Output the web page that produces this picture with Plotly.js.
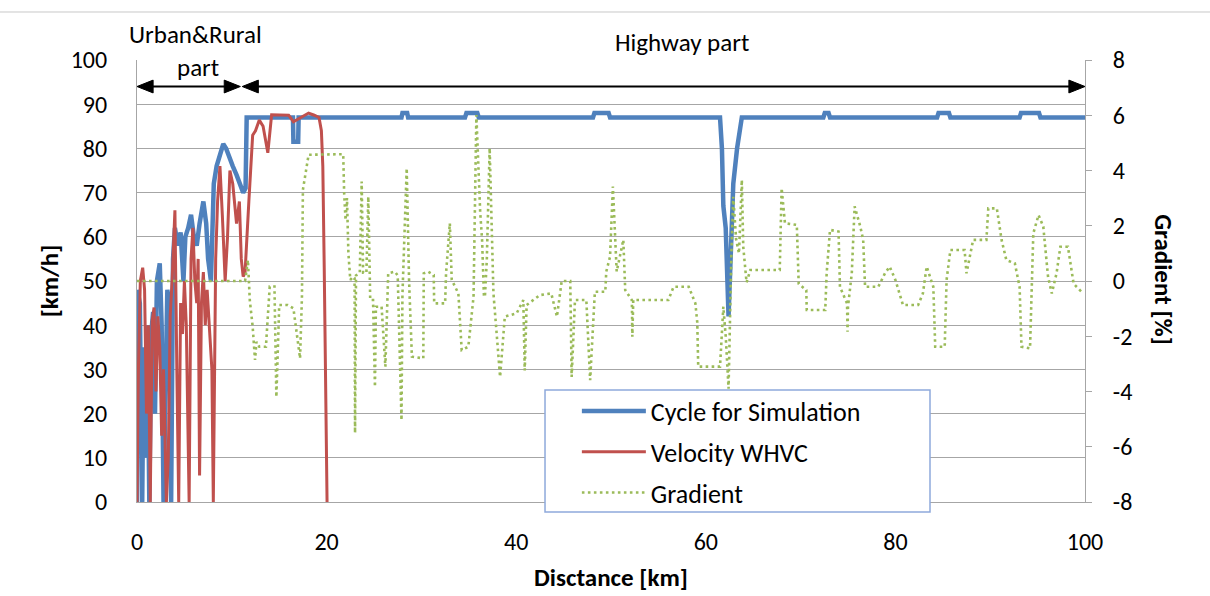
<!DOCTYPE html>
<html>
<head>
<meta charset="utf-8">
<script src="https://cdn.plot.ly/plotly-3.0.1.min.js"></script>
<style>html,body{margin:0;padding:0;background:#fff;}#chart{width:1210px;height:596px;}</style>
</head>
<body>
<div id="chart"></div>
<script>
// ---- Data (distance in km) ----
const cycleX = [0, 0.05, 0.3, 0.55, 0.7, 0.9, 1.1, 1.3, 1.5, 1.7, 1.9, 2.1, 2.4, 2.6, 2.8, 3.0, 3.2, 3.4, 3.6, 3.8, 4.0, 4.3, 4.6, 4.9, 5.1, 5.4, 5.7, 6.0, 6.3, 6.6, 7.0, 7.3, 7.5, 7.8, 8.1, 8.4, 8.7, 9.1, 9.4, 9.7, 10.1, 10.5, 10.9, 11.2, 11.45, 11.57,
  16.45, 16.5, 17.0, 17.05, 27.9, 28.0, 28.5, 28.6, 34.6, 34.75, 35.9, 36.05, 48.1, 48.25, 49.75, 49.9,
  61.5, 61.7, 61.85, 62.1, 62.4, 62.6, 62.9, 63.3, 63.8, 72.4, 72.55, 72.95, 73.1, 84.4, 84.55, 85.65, 85.8, 93.1, 93.25, 95.15, 95.3, 100];
const cycleV = [0, 48, 45, 0, 35, 10, 40, 0, 38, 43, 20, 50, 54, 40, 0, 25, 48, 45, 0, 55, 62, 58, 61, 50, 60, 62, 65, 60, 58, 63, 68, 63, 55, 50, 72, 76, 78, 81, 80, 78, 76, 74, 72, 70, 71, 87,
  87, 81.5, 81.5, 87, 87, 88, 88, 87, 87, 88, 88, 87, 87, 88, 88, 87,
  87, 80, 67, 62, 42, 55, 72, 80, 87, 87, 88, 88, 87, 87, 88, 88, 87, 87, 88, 88, 87, 87];

const whvcX = [0, 0.15, 0.35, 0.6, 0.8, 1.0, 1.2, 1.4, 1.6, 1.8, 2.0, 2.2, 2.4, 2.6, 2.8, 3.1, 3.3, 3.5, 3.7, 4.0,
  4.2, 4.4, 4.6, 4.8, 5.0, 5.2, 5.5, 5.7, 5.9, 6.1, 6.3, 6.45, 6.6, 6.8, 7.0, 7.2, 7.4, 7.7, 7.9, 8.05,
  8.3, 8.5, 8.75, 9.0, 9.3, 9.55, 9.8, 10.1, 10.5, 10.8, 11.0, 11.2, 11.4, 11.8, 12.2, 12.5, 12.9, 13.3, 13.8, 14.2,
  15.0, 16.0, 16.5, 17.3, 18.1, 18.7, 19.2, 19.45, 19.6, 19.75, 19.9, 20.05];
const whvcV = [0, 30, 50, 53, 48, 20, 40, 0, 41, 44, 25, 42, 35, 15, 30, 0, 10, 42, 50, 66,
  30, 0, 45, 38, 50, 40, 0, 55, 62, 50, 45, 55, 6, 45, 52, 40, 48, 37, 30, 0,
  55, 68, 76, 65, 50, 60, 75, 72, 63, 68, 55, 51, 52, 68, 83, 84, 86.4, 85, 79, 87.6,
  87.5, 87.5, 86, 87, 88, 87.5, 87, 84, 76, 53, 27, 0];

const gradX = [0, 11.4, 11.7, 11.9, 12.2, 12.45, 12.6, 12.9, 13.6, 14.0, 14.5, 14.7, 15.0, 15.9, 16.5, 17.2, 17.4, 17.5, 18.1,
  21.75, 21.85, 22.0, 22.15, 22.3, 22.5, 22.8, 22.95, 23.0, 23.1, 23.5, 23.7, 23.85, 24.2, 24.4, 24.6, 24.9, 25.1, 25.2, 25.8, 26.2, 26.5, 27.2, 27.5, 27.9, 28.0, 28.45, 28.7, 29.0,
  30.2, 30.25, 30.7, 31.3, 31.35, 32.5, 32.6, 33.0, 33.2, 33.9, 34.25, 34.95, 35.5, 35.8, 36.2, 36.4, 36.6, 36.7, 36.9, 37.2, 37.6, 38.3, 38.8,
  40.05, 40.75, 40.9, 41.1, 42.5, 43.7, 44.3, 44.8, 45.7, 45.85, 46.2, 47.4, 47.8, 48.3, 49.4, 49.5, 49.9, 50.2, 50.6, 51.3, 51.5, 52.2, 52.25, 52.35,
  56.05, 56.6, 58.2, 58.9, 59.1, 59.2, 61.5, 61.85, 62.1, 62.4, 62.55, 62.7, 62.9, 63.2, 63.5, 63.8, 63.95, 64.3, 64.7, 67.8, 68.0, 68.35, 69.6, 69.75, 69.8, 70.6, 70.65,
  72.6, 72.75, 73.1, 74.0, 74.15, 74.9, 74.95, 75.0, 75.4, 75.7, 76.3, 76.6, 76.8, 78.2, 78.9, 79.4, 80.0, 80.5, 80.8, 82.4, 82.9, 83.3, 84.0, 84.2,
  85.2, 85.4, 85.8, 87.3, 87.5, 88.2, 89.6, 89.8, 90.7, 91.2, 91.7, 92.6, 93.1, 93.3, 94.2, 94.55, 95.1, 95.6, 96.1, 96.5, 97.0, 97.4, 98.2, 98.8, 99.8];
const gradV = [0, 0, 0.76, -0.7, -1.65, -2.86, -2.2, -2.38, -2.38, -0.2, -0.2, -4.2, -0.87, -0.87, -0.99, -2.8, -0.57, 3.3, 4.57,
  4.59, 3.2, 2.2, 3.0, 1.0, 0.04, 0.16, 0.1, -5.5, 0.2, 0.3, 3.6, 0.3, 0.3, 3.05, -0.69, -0.69, -3.83, -0.93, -0.93, -3.1, 0.28, 0.34, 0.2, -5.04, -0.5, 4.08, 0, -2.74,
  -2.8, 0.28, 0.34, 0.22, -0.81, -0.81, 0.28, 2.09, 0.04, -0.45, -2.5, -2.38, -0.57, 6.01, 2.5, 1.49, -0.57, -0.57, 0.76, 4.81, -0.45, -3.47, -1.29,
  -1.17, -0.69, -3.24, -0.87, -0.51, -0.45, -1.29, 0.0, 0.0, -3.47, -0.69, -0.69, -3.59, -0.39, -0.39, 0.34, 0.88, 3.42, 0.34, 1.49, -0.33, -0.69, -2.02, -0.69,
  -0.69, -0.21, -0.21, -0.81, -1.5, -3.1, -3.1, -0.93, -2.0, -3.9, -1.0, 1.0, 3.05, 1.5, 1.0, 3.66, 1.24, -0.05, 0.4, 0.4, 3.36, 2.09, 2.03, 0.76, -0.1, -0.33, -1.05,
  -1.05, 0.28, 1.85, 1.79, -0.21, -0.81, -1.84, -0.93, 0.28, 2.7, 1.97, 1.49, -0.21, -0.21, 0.28, 0.52, 0.04, -0.57, -0.87, -0.87, -0.45, 0.52, -0.21, -2.38,
  -2.38, 0.04, 1.12, 1.12, 0.28, 1.49, 1.49, 2.63, 2.63, 1.49, 0.76, 0.64, -0.21, -2.38, -2.44, 1.73, 2.39, 1.97, 0.16, -0.45, 0.28, 1.24, 1.24, -0.1, -0.45];

const xTicks = [0, 20, 40, 60, 80, 100];
const yTicks = [0, 10, 20, 30, 40, 50, 60, 70, 80, 90, 100];
const y2Ticks = [-8, -6, -4, -2, 0, 2, 4, 6, 8];

// Part boundaries (km) and arrow level (km/h) for the section markers
const urbanEnd = 10.9, highwayStart = 11.1, arrowLevel = 94;

const FONT = 'Carlito, Calibri, Lato, sans-serif';
const GRID = '#a6a6a6';

const traces = [
  {x: cycleX, y: cycleV, name: 'Cycle for Simulation', type: 'scatter', mode: 'lines',
   line: {color: '#4F81BD', width: 4.5}, legendgroup: 'a'},
  {x: whvcX, y: whvcV, name: 'Velocity WHVC', type: 'scatter', mode: 'lines',
   line: {color: '#C0504D', width: 3}, legendgroup: 'b'},
  {x: gradX, y: gradV, name: 'Gradient', type: 'scatter', mode: 'lines', yaxis: 'y2',
   line: {color: '#9BBB59', width: 2.6, dash: '2.6px,3.4px'}, legendgroup: 'c'}
];

function arrowHead(tipX, dir) {
  const L = 1.7, H = 1.45;
  const bx = tipX + dir * L;
  return {type: 'path', xref: 'x', yref: 'y',
    path: `M ${tipX},${arrowLevel} L ${bx},${arrowLevel + H} L ${bx},${arrowLevel - H} Z`,
    fillcolor: '#000', line: {color: '#000', width: 1}};
}

const shapes = [
  {type: 'line', xref: 'paper', yref: 'paper', x0: -0.145, x1: 1.132, y0: 1.1086, y1: 1.1086,
   line: {color: '#c8c8c8', width: 1}},
  {type: 'line', xref: 'x', yref: 'y', x0: 0.5, x1: urbanEnd - 0.5, y0: arrowLevel, y1: arrowLevel,
   line: {color: '#000', width: 2}},
  {type: 'line', xref: 'x', yref: 'y', x0: highwayStart + 0.5, x1: 99.5, y0: arrowLevel, y1: arrowLevel,
   line: {color: '#000', width: 2}},
  arrowHead(0, 1), arrowHead(urbanEnd, -1), arrowHead(highwayStart, 1), arrowHead(100, -1),
  // legend frame
  {type: 'rect', xref: 'paper', yref: 'paper', layer: 'above', x0: 0.4304, x1: 0.8365, y0: -0.0226, y1: 0.2534,
   fillcolor: '#fff', line: {color: '#8EA9DB', width: 1.5}}
];

const annotations = [
  {text: 'Urban&Rural', xref: 'paper', yref: 'paper', x: 0.0622, y: 1.0566, showarrow: false,
   xanchor: 'center', yanchor: 'middle', font: {family: FONT, size: 25, color: '#000'}},
  {text: 'part', xref: 'paper', yref: 'paper', x: 0.0643, y: 0.982, showarrow: false,
   xanchor: 'center', yanchor: 'middle', font: {family: FONT, size: 25, color: '#000'}},
  {text: 'Highway part', xref: 'paper', yref: 'paper', x: 0.575, y: 1.0385, showarrow: false,
   xanchor: 'center', yanchor: 'middle', font: {family: FONT, size: 25, color: '#000'}},
  {text: 'Gradient [%]', xref: 'paper', yref: 'paper', x: 1.0833, y: 0.502, showarrow: false,
   textangle: 90, xanchor: 'center', yanchor: 'middle', font: {family: FONT, size: 25, color: '#000', weight: 'bold'}}
];

const layout = {
  width: 1210, height: 596,
  margin: {l: 137, r: 125, t: 60, b: 94},
  paper_bgcolor: '#fff', plot_bgcolor: '#fff',
  font: {family: FONT, size: 24, color: '#000'},
  showlegend: true,
  legend: {x: 0.464, y: 0.259, xanchor: 'left', yanchor: 'top', bgcolor: 'rgba(0,0,0,0)',
    borderwidth: 0, font: {family: FONT, size: 26, color: '#000'},
    traceorder: 'grouped', tracegroupgap: 4, itemwidth: 64},
  xaxis: {range: [0, 100], tickvals: xTicks, ticktext: xTicks.map(String), showgrid: false, zeroline: false,
    showline: true, linecolor: GRID, linewidth: 1, ticks: '', ticklabelstandoff: 18,
    title: {text: 'Disctance [km]', font: {family: FONT, size: 25, weight: 'bold'}, standoff: 13}},
  yaxis: {range: [0, 100], tickvals: yTicks, ticktext: yTicks.map(String), showgrid: true, gridcolor: GRID, gridwidth: 1,
    zeroline: false, showline: true, linecolor: GRID, linewidth: 1, ticks: '', ticklabelstandoff: 24,
    title: {text: '[km/h]', font: {family: FONT, size: 25, weight: 'bold'}, standoff: 4}},
  yaxis2: {range: [-8, 8], tickvals: y2Ticks, ticktext: y2Ticks.map(String), overlaying: 'y', side: 'right',
    showgrid: false, zeroline: false, showline: true, linecolor: GRID, linewidth: 1,
    ticks: 'outside', ticklen: 6, tickcolor: GRID, ticklabelstandoff: 16},
  shapes: shapes,
  annotations: annotations
};

Plotly.newPlot('chart', traces, layout, {displayModeBar: false, staticPlot: true});
</script>
</body>
</html>
